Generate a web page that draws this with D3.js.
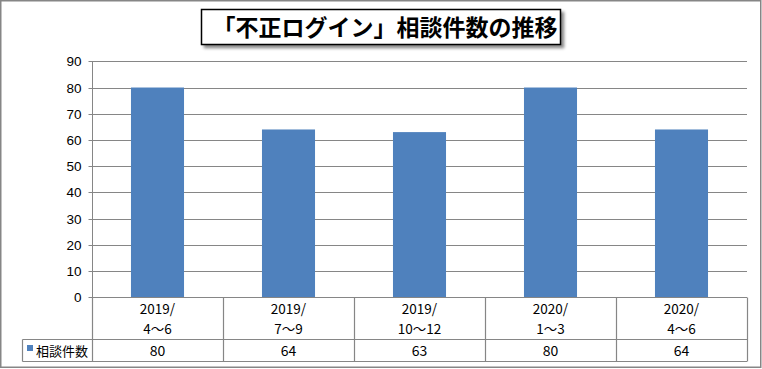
<!DOCTYPE html>
<html><head><meta charset="utf-8">
<script src="https://cdn.jsdelivr.net/npm/d3@7"></script>
<style>
html,body{margin:0;padding:0;background:#fff;}
svg{display:block;font-family:"Noto Sans CJK JP","Noto Sans",sans-serif;}
</style></head>
<body>
<svg id="c" width="762" height="369"></svg>
<script>
const title = "「不正ログイン」相談件数の推移";
const seriesName = "相談件数";
const categoriesLine1 = ["2019/", "2019/", "2019/", "2020/", "2020/"];
const categoriesLine2 = ["4～6", "7～9", "10～12", "1～3", "4～6"];
const values = [80, 64, 63, 80, 64];
const yTicks = [0, 10, 20, 30, 40, 50, 60, 70, 80, 90];

const svg = d3.select("#c");
const gray = "#868686";
const barColor = "#4F81BD";

// outer border
svg.append("rect").attr("x", 0.75).attr("y", 0.75).attr("width", 760).attr("height", 366.5)
  .attr("fill", "#fff").attr("stroke", gray).attr("stroke-width", 1.5);

const L = 92, R = 747, T = 61.3, B = 297.3;
const x = d3.scaleBand().domain(d3.range(values.length)).range([L, R]).paddingInner(0.595).paddingOuter(0.2975);
const y = d3.scaleLinear().domain([0, 90]).range([B, T]);

// gridlines
svg.append("g").selectAll("line").data(yTicks.filter(d => d > 0)).join("line")
  .attr("x1", L).attr("x2", R).attr("y1", d => Math.round(y(d)) + 0.5).attr("y2", d => Math.round(y(d)) + 0.5)
  .attr("stroke", gray).attr("stroke-width", 1);

// y axis
const yAxis = d3.axisLeft(y).tickValues(yTicks).tickSize(4).tickPadding(7).tickFormat(d3.format("d"));
const ga = svg.append("g").attr("transform", `translate(${L + 0.5},0)`).call(yAxis);
ga.select(".domain").attr("stroke", gray).attr("d", `M0,${T}V${B}`);
ga.selectAll(".tick line").attr("stroke", gray);
ga.selectAll(".tick text").attr("fill", "#000").attr("font-size", 13.5).attr("font-family", "Liberation Sans, Arial, sans-serif");
ga.selectAll(".tick").attr("transform", d => `translate(0,${Math.round(y(d)) + 0.5})`);

// bars
svg.append("g").selectAll("rect").data(values).join("rect")
  .attr("x", (d, i) => x(i)).attr("width", x.bandwidth())
  .attr("y", d => y(d)).attr("height", d => y(0) - y(d))
  .attr("fill", barColor);

// data table
const rowTop = 297.5, rowMid = 339.5, rowBot = 361.5;
const step = x.step();
const tg = svg.append("g").attr("stroke", gray).attr("stroke-width", 1.2).attr("fill", "none");
tg.append("line").attr("x1", L).attr("x2", R).attr("y1", rowTop).attr("y2", rowTop);
tg.append("line").attr("x1", 22.5).attr("x2", R).attr("y1", rowMid).attr("y2", rowMid);
tg.append("line").attr("x1", 22.5).attr("x2", R).attr("y1", rowBot).attr("y2", rowBot);
tg.append("line").attr("x1", 22.5).attr("x2", 22.5).attr("y1", rowMid).attr("y2", rowBot);
tg.selectAll("line.v").data(d3.range(values.length + 1)).join("line").attr("class", "v")
  .attr("x1", i => Math.round(L + i * step) + 0.5).attr("x2", i => Math.round(L + i * step) + 0.5)
  .attr("y1", rowTop).attr("y2", rowBot);

const cx = i => x(i) + x.bandwidth() / 2;
const txt = svg.append("g").attr("font-size", 13.5).attr("fill", "#000").attr("text-anchor", "middle");
txt.selectAll("text.l1").data(categoriesLine1).join("text").attr("class", "l1")
  .attr("x", (d, i) => cx(i)).attr("y", 314).text(d => d);
txt.selectAll("text.l2").data(categoriesLine2).join("text").attr("class", "l2")
  .attr("x", (d, i) => cx(i)).attr("y", 333.5).text(d => d);
txt.selectAll("text.v").data(values).join("text").attr("class", "v")
  .attr("x", (d, i) => cx(i)).attr("y", 355.5).attr("font-size", 14).text(d => d);

// legend key in table
svg.append("rect").attr("x", 27).attr("y", 345).attr("width", 6).attr("height", 6).attr("fill", barColor);
svg.append("text").attr("x", 36).attr("y", 355.5).attr("font-size", 13).attr("fill", "#000").text(seriesName);

// title box with shadow
const defs = svg.append("defs");
const f = defs.append("filter").attr("id", "sh").attr("x", "-10%").attr("y", "-30%").attr("width", "130%").attr("height", "180%");
f.append("feDropShadow").attr("dx", 3).attr("dy", 3).attr("stdDeviation", 1.5).attr("flood-color", "#000").attr("flood-opacity", 0.45);
svg.append("rect").attr("x", 201.5).attr("y", 9.5).attr("width", 359).attr("height", 35)
  .attr("fill", "#fff").attr("stroke", "#000").attr("stroke-width", 1.5).attr("filter", "url(#sh)");
svg.append("text").attr("x", 385).attr("y", 36).attr("text-anchor", "middle")
  .attr("font-size", 23).attr("font-weight", "bold").attr("fill", "#000").text(title);
</script>
</body></html>
